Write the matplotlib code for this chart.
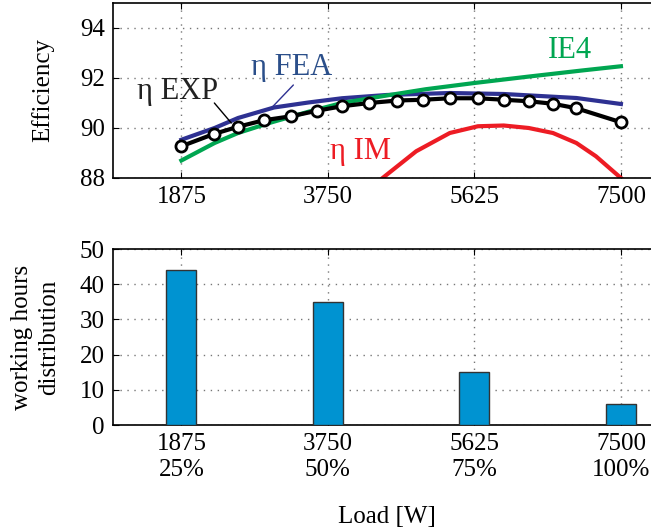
import matplotlib.pyplot as plt

plt.rcParams['font.family'] = ['Liberation Serif', 'DejaVu Serif']
plt.rcParams['font.size'] = 18

# efficiency curves (load in W, efficiency in %)
p_exp = [1875, 2290, 2600, 2930, 3280, 3610, 3930, 4280, 4640, 4970, 5310, 5670, 6000, 6320, 6630, 6930, 7500]
eta_exp = [89.27, 89.76, 90.05, 90.31, 90.47, 90.69, 90.87, 91.0, 91.1, 91.13, 91.19, 91.19, 91.13, 91.07, 90.97, 90.79, 90.23]

p_fea = [1875, 2300, 2600, 3060, 3500, 3930, 4500, 5310, 6000, 6930, 7500]
eta_fea = [89.53, 90.0, 90.4, 90.82, 91.02, 91.19, 91.32, 91.4, 91.36, 91.2, 90.96]

p_ie4 = [1875, 2300, 2600, 3000, 3500, 3930, 4500, 5000, 5625, 6300, 7000, 7500]
eta_ie4 = [88.7, 89.4, 89.8, 90.2, 90.65, 91.0, 91.3, 91.55, 91.8, 92.05, 92.3, 92.47]

p_im = [4450, 4880, 5310, 5670, 6000, 6320, 6630, 6930, 7180, 7500]
eta_im = [88.0, 89.07, 89.8, 90.07, 90.1, 90.0, 89.8, 89.4, 88.87, 88.0]

# working hours distribution
loads = [1875, 3750, 5625, 7500]
load_pct = ['25%', '50%', '75%', '100%']
hours = [44, 35, 15, 6]

fig = plt.figure(figsize=(6.51, 5.32), dpi=100)
ax1 = fig.add_axes([113/651, 1 - 178/532, 547/651, 175/532])
ax2 = fig.add_axes([113/651, 1 - 425/532, 547/651, 176/532])

ax1.plot(p_fea, eta_fea, color='#2e3192', lw=3)
ax1.plot(p_ie4, eta_ie4, color='#00a651', lw=3)
ax1.plot(p_im, eta_im, color='#ed1c24', lw=3)
ax1.plot(p_exp, eta_exp, color='black', lw=3, marker='o', ms=8,
         mfc='white', mec='black', mew=2)

ax1.set_xlim(1000, 8000)
ax1.set_ylim(88, 95)
ax1.set_xticks(loads)
ax1.set_yticks([88, 90, 92, 94])
ax1.set_ylabel('Efficiency', labelpad=18)

# curve labels with leader lines
lab = dict(fontsize=22, ha='center', va='center')
ax1.text(1830, 91.44, 'η EXP', color='#222222', **lab)
ax1.annotate('', xy=(2514, 90.2), xytext=(2297, 91.0),
             arrowprops=dict(arrowstyle='-', color='black', lw=1, shrinkA=0, shrinkB=0))
ax1.text(3290, 92.4, 'η FEA', color='#2b4f8a', **lab)
ax1.annotate('', xy=(3027, 90.8), xytext=(3308, 91.72),
             arrowprops=dict(arrowstyle='-', color='#2e3192', lw=1, shrinkA=0, shrinkB=0))
ax1.text(6850, 93.1, 'IE4', color='#00a651', **lab)
ax1.text(4170, 89.05, 'η IM', color='#ed1c24', **lab)

ax2.bar(loads, hours, width=385, color='#0093d1', edgecolor='#333333', lw=1, zorder=3)
ax2.set_xlim(1000, 8000)
ax2.set_ylim(0, 50)
ax2.set_xticks(loads)
ax2.set_xticklabels([f'{l}\n{p}' for l, p in zip(loads, load_pct)])
ax2.set_yticks([0, 10, 20, 30, 40, 50])
ax2.set_ylabel('working hours\ndistribution', labelpad=14, linespacing=1.3)
ax2.set_xlabel('Load [W]', labelpad=18)

for ax in (ax1, ax2):
    ax.grid(True, linestyle=(0, (1, 4)), color='#777777', lw=1)
    ax.set_axisbelow(True)
    ax.tick_params(direction='in', top=True, right=True, length=4, pad=6)
    for s in ax.spines.values():
        s.set_linewidth(1.2)

fig.savefig('out.png', dpi=100)
